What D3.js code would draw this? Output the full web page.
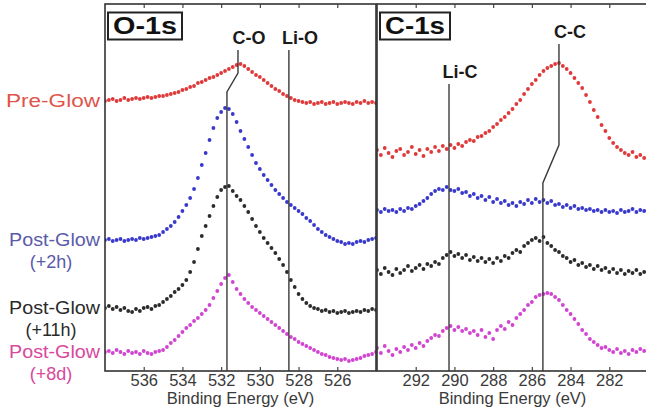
<!DOCTYPE html>
<html lang="en">
<head>
<meta charset="utf-8">
<title>XPS O-1s / C-1s spectra</title>
<script src="https://cdnjs.cloudflare.com/ajax/libs/d3/7.8.5/d3.min.js"></script>
<style>
  body { margin: 0; background: #fff; }
  text { font-family: "Liberation Sans", Arial, sans-serif; }
</style>
</head>
<body>
<script>
// spectra are sampled every 0.2 eV, starting at the high binding energy end
const o1sStart = 538, c1sStart = 294, stepEV = 0.2;

const seriesNames = ["Pre-Glow", "Post-Glow", "Post-Glow", "Post-Glow"];
const seriesSub   = ["", "(+2h)", "(+11h)", "(+8d)"];

// intensity (offset, arb. units)
const o1sPre = [270,271,272,270,271,273,271,272,273,272,273,274,273,274,275,275,276,277,278,279,281,282,284,285,288,289,291,293,294,296,298,300,302,304,306,307,305,302,299,296,294,291,288,285,282,280,277,275,273,271,270,269,268,269,267,268,269,267,268,269,267,268,269,268,267,269,268,270,268,269,268];
const o1s2h  = [131,132,130,131,132,130,131,132,131,133,132,133,134,135,136,139,142,145,149,154,160,166,173,182,193,206,218,231,243,253,259,263,262,257,249,240,232,224,216,208,202,196,191,186,181,177,173,169,166,163,160,157,153,150,146,142,139,136,134,132,130,129,127,128,127,129,130,129,131,132,133];
const o1s11h = [63,65,62,64,61,63,60,59,62,60,63,64,62,65,66,69,72,75,79,82,86,91,99,109,122,135,145,155,165,174,181,184,185,180,175,171,165,159,152,145,139,133,128,123,118,112,106,99,91,84,77,72,68,65,63,62,60,61,59,60,58,59,60,58,59,60,59,61,60,62,61];
const o1s8d  = [19,20,18,21,19,17,20,18,19,17,20,18,17,19,20,21,24,28,31,35,39,43,46,50,53,57,61,66,73,80,87,93,96,89,82,77,72,68,64,61,58,55,52,49,46,43,40,37,34,32,29,27,25,23,21,19,17,16,14,13,12,11,12,10,11,12,13,15,16,17,19];

const c1sPre = [221,216,223,218,214,220,222,216,219,224,217,221,215,222,219,224,220,225,222,226,223,227,225,229,231,230,234,235,238,240,244,247,251,254,258,262,267,271,277,282,287,291,296,300,303,305,307,308,305,302,298,293,288,283,276,269,261,254,246,240,233,228,224,221,218,216,219,214,216,213,215];
const c1s2h  = [161,159,162,160,161,159,162,160,163,162,165,167,170,173,177,180,182,181,184,181,180,182,178,179,175,177,173,175,171,174,169,172,168,170,166,168,165,169,167,171,168,172,169,171,168,170,166,167,164,166,163,165,162,163,161,162,160,161,159,161,159,160,158,161,159,160,162,159,161,160,162];
const c1s11h = [101,97,103,99,96,102,98,101,105,100,103,106,102,107,105,109,107,113,116,119,115,117,113,116,111,114,110,113,109,112,108,113,110,115,113,118,121,119,125,128,131,133,130,134,128,125,121,119,115,113,109,111,106,108,104,106,102,105,101,103,99,102,98,101,97,100,98,101,97,99,100];
const c1s8d  = [23,18,25,20,16,22,19,24,21,26,23,28,25,30,33,36,35,40,43,45,41,44,40,42,38,40,36,41,34,38,32,41,45,42,49,46,53,57,61,66,69,74,76,77,78,77,74,71,66,61,57,52,47,41,37,32,29,26,23,24,21,19,22,18,20,17,21,19,22,20,23];

const o1sTicks = [536, 534, 532, 530, 528, 526];
const c1sTicks = [292, 290, 288, 286, 284, 282];

// peak markers: energy of upper / lower segment, intensity levels of the line top and of the kink
const o1sMarkers = [
  {label: "C-O",  eTop: 531.13, eLow: 531.7, vTop: 321, vKinkTop: 298, vKinkLow: 279},
  {label: "Li-O", eTop: 528.5,  eLow: 528.5, vTop: 321}
];
const c1sMarkers = [
  {label: "Li-C", eTop: 290.28, eLow: 290.28, vTop: 287},
  {label: "C-C",  eTop: 284.6,  eLow: 285.43, vTop: 327, vKinkTop: 226, vKinkLow: 188}
];

const dotColors   = ["#dd2424", "#2222c8", "#141414", "#cc30cc"];
const labelColors = ["#e0544c", "#5a5aaa", "#2a2a2a", "#d8489c"];

const W = 646, H = 410;
const plotTop = 4, plotBottom = 371;

const svg = d3.select("body").append("svg")
  .attr("width", W).attr("height", H);

const y = d3.scaleLinear().domain([0, 367]).range([plotBottom, plotTop]);

const panels = [
  {id: "o1s", title: "O-1s", domain: [538, 524], left: 105, right: 376, start: o1sStart,
   series: [o1sPre, o1s2h, o1s11h, o1s8d], ticks: o1sTicks, markers: o1sMarkers, titleLen: 64},
  {id: "c1s", title: "C-1s", domain: [294, 280], left: 377, right: 648, start: c1sStart,
   series: [c1sPre, c1s2h, c1s11h, c1s8d], ticks: c1sTicks, markers: c1sMarkers, titleLen: 60}
];

panels.forEach(function(p) {
  const x = d3.scaleLinear().domain(p.domain).range([p.left, p.right]);
  const g = svg.append("g");

  svg.append("clipPath").attr("id", "clip-" + p.id)
    .append("rect")
    .attr("x", p.left).attr("y", plotTop)
    .attr("width", p.right - p.left).attr("height", plotBottom - plotTop);

  // data dots
  const dots = g.append("g").attr("clip-path", "url(#clip-" + p.id + ")");
  p.series.forEach(function(vals, si) {
    dots.selectAll(null)
      .data(vals)
      .enter()
      .append("circle")
      .attr("cx", function(d, i) { return x(p.start - i * stepEV); })
      .attr("cy", function(d) { return y(d); })
      .attr("r", 1.9)
      .attr("fill", dotColors[si])
      .attr("opacity", 0.9);
  });

  // peak marker lines
  p.markers.forEach(function(m) {
    let pts;
    if (m.vKinkTop !== undefined) {
      pts = [[m.eTop, m.vTop], [m.eTop, m.vKinkTop], [m.eLow, m.vKinkLow], [m.eLow, 0]];
    } else {
      pts = [[m.eTop, m.vTop], [m.eLow, 0]];
    }
    g.append("path")
      .attr("d", d3.line().x(function(d) { return x(d[0]); }).y(function(d) { return y(d[1]); })(pts))
      .attr("fill", "none")
      .attr("stroke", "#3a3a3a")
      .attr("stroke-width", 1.4);

    g.append("text")
      .attr("x", x(m.eTop) + 11)
      .attr("y", y(m.vTop) - 6)
      .attr("text-anchor", "middle")
      .attr("font-size", 18)
      .attr("font-weight", "bold")
      .attr("fill", "#1a1a1a")
      .text(m.label);
  });

  // frame
  g.append("rect")
    .attr("x", p.left).attr("y", plotTop)
    .attr("width", p.right - p.left).attr("height", plotBottom - plotTop)
    .attr("fill", "none")
    .attr("stroke", "#333")
    .attr("stroke-width", 1.6);

  // axes, ticks pointing inwards
  const xAxis = d3.axisBottom(x).tickValues(p.ticks).tickSizeInner(-4).tickSizeOuter(0).tickPadding(3);
  const ax = g.append("g").attr("transform", "translate(0," + plotBottom + ")").call(xAxis);
  ax.select(".domain").remove();
  ax.selectAll("line").attr("stroke", "#444").attr("stroke-width", 1.2);
  ax.selectAll("text").attr("font-size", 16.5).attr("fill", "#3a3a3a")
    .attr("font-family", "Liberation Sans, Arial, sans-serif");

  const topAxis = d3.axisTop(x).tickValues(p.ticks).tickSizeInner(-4).tickSizeOuter(0).tickFormat("");
  const at = g.append("g").attr("transform", "translate(0," + plotTop + ")").call(topAxis);
  at.select(".domain").remove();
  at.selectAll("line").attr("stroke", "#444").attr("stroke-width", 1.2);

  g.append("text")
    .attr("x", (p.left + p.right) / 2)
    .attr("y", 404)
    .attr("text-anchor", "middle")
    .attr("font-size", 16.5)
    .attr("fill", "#3a3a3a")
    .text("Binding Energy (eV)");

  // panel title in a box
  const tx = p.left + 8;
  g.append("rect")
    .attr("x", p.left + 3).attr("y", 12.5)
    .attr("width", p.titleLen + 10).attr("height", 27)
    .attr("fill", "#fff")
    .attr("stroke", "#222")
    .attr("stroke-width", 2);
  g.append("text")
    .attr("x", tx)
    .attr("y", 34)
    .attr("font-size", 23)
    .attr("font-weight", "bold")
    .attr("fill", "#111")
    .attr("textLength", p.titleLen)
    .attr("lengthAdjust", "spacingAndGlyphs")
    .text(p.title);
});

// series labels at the left, level with the start of each O-1s trace
const labels = svg.append("g");
const firstVals = [o1sPre[0], o1s2h[0], o1s11h[0], o1s8d[0]];
seriesNames.forEach(function(name, i) {
  const yy = y(firstVals[i]);
  labels.append("text")
    .attr("x", 100)
    .attr("y", yy + 6)
    .attr("text-anchor", "end")
    .attr("font-size", 18)
    .attr("fill", labelColors[i])
    .attr("textLength", i === 0 ? 94 : 91)
    .attr("lengthAdjust", "spacingAndGlyphs")
    .text(name);
  if (seriesSub[i]) {
    labels.append("text")
      .attr("x", 51)
      .attr("y", yy + 28)
      .attr("text-anchor", "middle")
      .attr("font-size", 18)
      .attr("fill", labelColors[i])
      .text(seriesSub[i]);
  }
});
</script>
</body>
</html>
